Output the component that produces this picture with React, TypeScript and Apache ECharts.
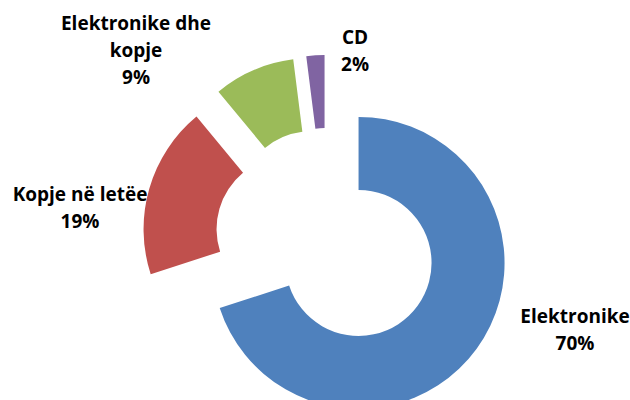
import React, { useEffect, useRef } from "react";
import * as echarts from "echarts";

const categories = ["Elektronike", "Kopje në letëe", "Elektronike dhe kopje", "CD"];
const shares = [70, 19, 9, 2];
const colors = ["#4F81BD", "#C0504D", "#9BBB59", "#8064A2"];

// label anchor points (layout only)
const labelAnchors: [number, number][] = [
  [575, 329],
  [80, 207],
  [136, 50],
  [355, 50],
];

function wrapName(name: string, maxChars: number): string {
  const words = name.split(" ");
  const lines: string[] = [];
  let cur = "";
  for (const w of words) {
    const next = cur ? cur + " " + w : w;
    if (next.length > maxChars && cur) {
      lines.push(cur);
      cur = w;
    } else {
      cur = next;
    }
  }
  if (cur) lines.push(cur);
  return lines.join("\n");
}

export default function App() {
  const ref = useRef<HTMLDivElement>(null);
  useEffect(() => {
    if (!ref.current) return;
    const chart = echarts.init(ref.current, null, { renderer: "svg" });
    const total = shares.reduce((a, b) => a + b, 0);
    chart.setOption({
      animation: false,
      backgroundColor: "#ffffff",
      graphic: categories.map((name, i) => ({
        type: "text",
        x: labelAnchors[i][0],
        y: labelAnchors[i][1],
        silent: true,
        style: {
          text: `${wrapName(name, 16)}\n${Math.round((shares[i] / total) * 100)}%`,
          fontFamily: "Open Sans",
          fontWeight: "bold",
          fontSize: 19,
          lineHeight: 27,
          fill: "#000000",
          align: "center",
          verticalAlign: "middle",
        },
      })),
      series: [
        {
          type: "pie",
          center: [327, 240],
          radius: [73, 146],
          startAngle: 90,
          clockwise: true,
          selectedMode: "multiple",
          selectedOffset: 39,
          avoidLabelOverlap: false,
          emphasis: { disabled: true },
          itemStyle: { borderWidth: 0 },
          label: { show: false },
          labelLine: { show: false },
          data: categories.map((name, i) => ({
            name,
            value: shares[i],
            selected: true,
            itemStyle: { color: colors[i] },
          })),
        },
      ],
    });
    return () => chart.dispose();
  }, []);
  return (
    <div
      ref={ref}
      style={{ position: "fixed", left: 0, top: 0, width: 630, height: 400 }}
    />
  );
}
